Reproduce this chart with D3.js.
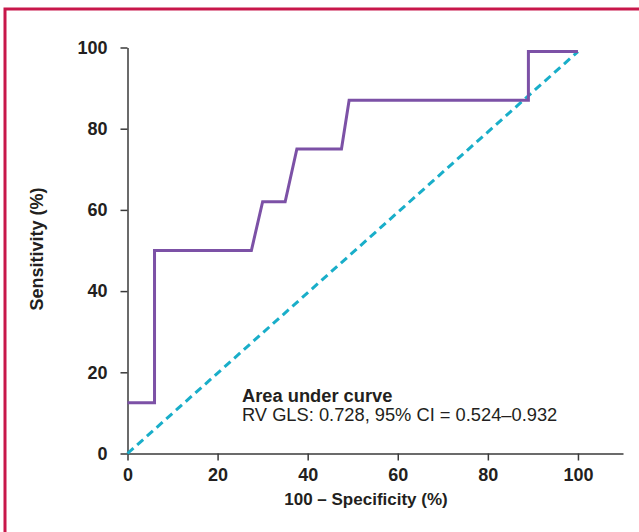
<!DOCTYPE html>
<html>
<head>
<meta charset="utf-8">
<script src="https://cdn.jsdelivr.net/npm/d3@7"></script>
<style>
  body { margin: 0; background: #fff; }
  svg { display: block; font-family: "Liberation Sans", Arial, sans-serif; }
  .axis path, .axis line { stroke: #3a3a3a; stroke-width: 1.5; }
  .axis text { font-size: 18px; font-weight: bold; fill: #231f20; }
</style>
</head>
<body>
<div id="svg"></div>
<script>
// ROC curve points (100 - specificity, sensitivity)
var rocX = [0, 6, 6, 27.5, 30, 35, 37.6, 47.5, 49.2, 89, 89, 100];
var rocY = [12.5, 12.5, 50, 50, 62, 62, 75, 75, 87, 87, 99, 99];
// reference (chance) line
var refX = [0, 100];
var refY = [0, 99];
var xTicks = [0, 20, 40, 60, 80, 100];
var yTicks = [0, 20, 40, 60, 80, 100];

var width = 639, height = 532;

var svg = d3.select("#svg")
    .append("svg")
    .attr("width", width)
    .attr("height", height);

// frame
svg.append("rect")
    .attr("x", 5)
    .attr("y", 9)
    .attr("width", 700)
    .attr("height", 600)
    .attr("fill", "none")
    .attr("stroke", "#c8174a")
    .attr("stroke-width", 3);

var x = d3.scaleLinear()
    .domain([0, 110])
    .range([127.5, 623]);

var y = d3.scaleLinear()
    .domain([0, 100])
    .range([453.5, 47.5]);

// x axis
svg.append("g")
    .attr("class", "axis")
    .attr("transform", "translate(0," + y(0) + ")")
    .call(d3.axisBottom(x).tickValues(xTicks).tickSize(7).tickSizeOuter(0).tickPadding(8));

// y axis
svg.append("g")
    .attr("class", "axis")
    .attr("transform", "translate(" + x(0) + ",0)")
    .call(d3.axisLeft(y).tickValues(yTicks).tickSize(7).tickSizeOuter(0).tickPadding(13));

// axis labels
svg.append("text")
    .attr("x", 366)
    .attr("y", 505)
    .attr("text-anchor", "middle")
    .style("font-size", "17px")
    .style("font-weight", "bold")
    .style("fill", "#231f20")
    .text("100 \u2013 Specificity (%)");

svg.append("text")
    .attr("transform", "translate(43," + 249 + ") rotate(-90)")
    .attr("text-anchor", "middle")
    .style("font-size", "18px")
    .style("font-weight", "bold")
    .style("fill", "#231f20")
    .text("Sensitivity (%)");

// chance line
var refData = refX.map(function (d, i) { return [d, refY[i]]; });
svg.append("path")
    .datum(refData)
    .attr("fill", "none")
    .attr("stroke", "#19aec9")
    .attr("stroke-width", 3)
    .attr("stroke-dasharray", "8,5")
    .attr("d", d3.line()
        .x(function (d) { return x(d[0]); })
        .y(function (d) { return y(d[1]); }));

// roc curve
var rocData = rocX.map(function (d, i) { return [d, rocY[i]]; });
svg.append("path")
    .datum(rocData)
    .attr("fill", "none")
    .attr("stroke", "#7c51a6")
    .attr("stroke-width", 3)
    .attr("d", d3.line()
        .x(function (d) { return x(d[0]); })
        .y(function (d) { return y(d[1]); }));

// annotation
svg.append("text")
    .attr("x", 242)
    .attr("y", 401.5)
    .style("font-size", "18.3px")
    .style("font-weight", "bold")
    .style("fill", "#231f20")
    .text("Area under curve");

svg.append("text")
    .attr("x", 242)
    .attr("y", 421)
    .style("font-size", "18.3px")
    .style("fill", "#231f20")
    .text("RV GLS: 0.728, 95% CI = 0.524\u20130.932");
</script>
</body>
</html>
